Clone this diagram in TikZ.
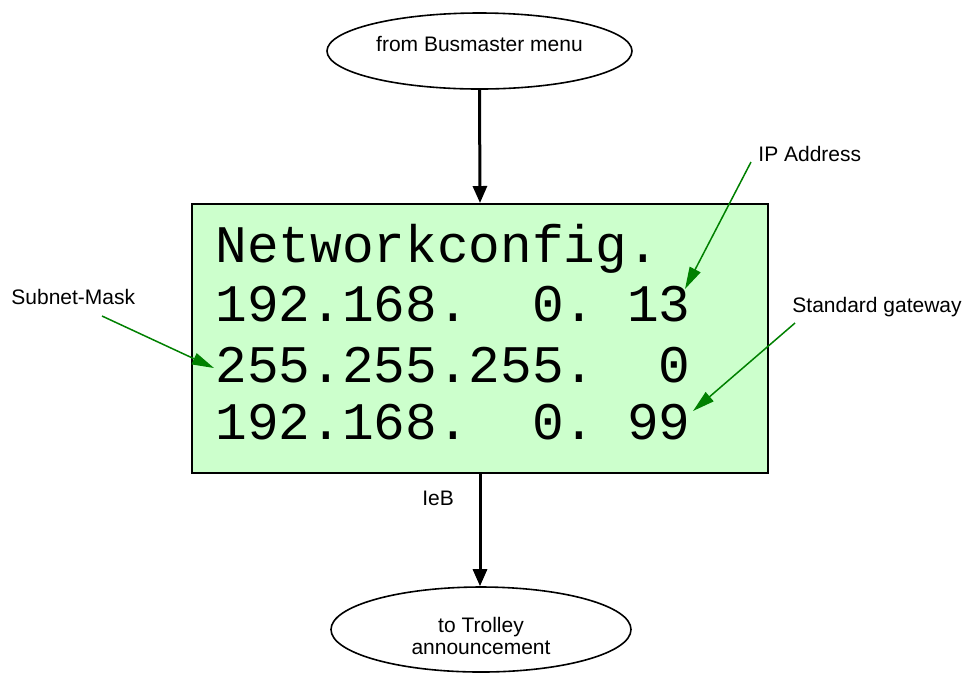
\documentclass[tikz,border=0pt]{standalone}
\usepackage{fontspec}
\setmainfont{Liberation Sans}
\newfontfamily\lcdfont{Liberation Mono}
\usetikzlibrary{shapes.geometric,arrows.meta}
\definecolor{lcdgreen}{HTML}{CCFFCC}
\definecolor{arrgreen}{HTML}{008000}
\tikzset{
  terminal/.style={ellipse, draw, line width=0.8pt, inner sep=0pt},
  termtext/.style={inner sep=0pt, align=center, font=\fontsize{10.5}{11}\selectfont},
  lcd/.style={draw, line width=1pt, fill=lcdgreen, minimum width=288pt, minimum height=134.5pt, inner sep=0pt},
  lcdline/.style={anchor=base west, inner sep=0pt, font=\lcdfont\fontsize{26.4}{29.5}\selectfont},
  flow/.style={line width=1.5pt, -{Triangle[length=8.5pt,width=7pt]}},
  note/.style={anchor=base west, inner sep=0pt, font=\fontsize{10.5}{11}\selectfont},
  pointer/.style={color=arrgreen, line width=0.75pt, -{Triangle[length=11pt,width=6pt]}}
}
\begin{document}
\begin{tikzpicture}[x=0.5pt, y=-0.5pt]
  \path[use as bounding box] (0,0) rectangle (968,677);

  % terminals
  \node[terminal, minimum width=152.5pt, minimum height=38pt] (top) at (479.5,51) {};
  \node[termtext] (toptext) at (479.5,44) {from Busmaster menu};
  \node[terminal, minimum width=150pt, minimum height=42.5pt] (bot) at (481,629.5) {};
  \node[termtext] (bottext) at (481,635.5) {to Trolley\\announcement};

  % LCD display
  \node[lcd] (cfg) at (480,338.5) {};
  \node[lcdline] (l1) at (215,262) {Networkconfig.};
  \node[lcdline] (l2) at (215,321) {192.168.\hphantom{00}0.\hphantom{0}13};
  \node[lcdline] (l3) at (215,382) {255.255.255.\hphantom{00}0};
  \node[lcdline] (l4) at (215,439) {192.168.\hphantom{00}0.\hphantom{0}99};

  % flow arrows
  \draw[flow] (top.south) -- (cfg.north);
  \draw[flow] (cfg.south) -- (cfg.south |- bot.north);
  \node[note] (ieb) at (422,505) {IeB};

  % annotations
  \node[note] (subnet) at (11,304) {Subnet-Mask};
  \node[note] (ip) at (758,161) {IP Address};
  \node[note] (gw) at (792,312) {Standard gateway};

  \coordinate (subnetS) at (102,316);
  \coordinate (subnetT) at (214,368);
  \coordinate (ipS) at (751,162);
  \coordinate (ipT) at (685,289);
  \coordinate (gwS) at (795,323);
  \coordinate (gwT) at (693,411);

  \draw[pointer] (subnetS) -- (subnetT);
  \draw[pointer] (ipS) -- (ipT);
  \draw[pointer] (gwS) -- (gwT);
\end{tikzpicture}
\end{document}
